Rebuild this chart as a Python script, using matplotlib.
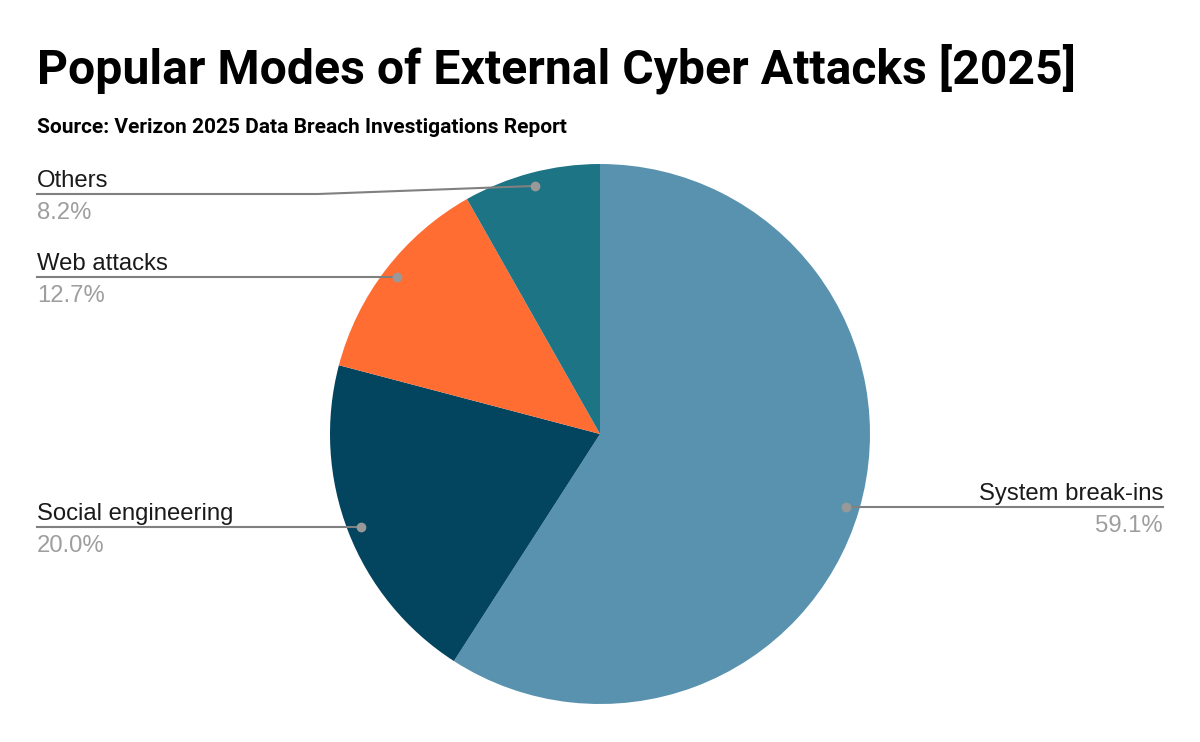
import numpy as np
import matplotlib.pyplot as plt

# data
labels = ["System break-ins", "Social engineering", "Web attacks", "Others"]
values = [59.1, 20.0, 12.7, 8.2]
colors = ["#5992AE", "#03445F", "#FF6D33", "#1D7485"]

W, H = 1200, 742
fig = plt.figure(figsize=(W / 100, H / 100), dpi=100)
ax = fig.add_axes([0, 0, 1, 1])

cx, cy, r = 600, H - 434, 270
ax.pie(values, colors=colors, startangle=90, counterclock=False,
       center=(cx, cy), radius=r, frame=True,
       wedgeprops=dict(linewidth=0))
ax.set_xlim(0, W)
ax.set_ylim(0, H)
ax.set_aspect("equal")
ax.axis("off")

# leader lines / labels
label_rows = [507, 527, 277, 194]  # y pixel of the leader line
line_col = "#808080"
tot = sum(values)
cum = 0
for i, (lab, v) in enumerate(zip(labels, values)):
    mid = (cum + v / 2) / tot * 360
    cum += v
    ang = np.radians(90 - mid)
    dx, dy = cx + 0.95 * r * np.cos(ang), cy + 0.95 * r * np.sin(ang)
    ly = H - label_rows[i]
    right = dx > cx
    if right:
        xe = 1163
        ax.plot([dx, xe], [ly, ly], color=line_col, lw=1.5, zorder=3)
        ha = "right"
    else:
        xe = 37
        if abs(dy - ly) > 3:
            kx = 318
            ax.plot([dx, kx, xe], [dy, ly, ly], color=line_col, lw=1.5, zorder=3)
        else:
            ax.plot([dx, xe], [ly, ly], color=line_col, lw=1.5, zorder=3)
        ha = "left"
    ax.plot([dx], [dy if not right else ly], "o", color="#999999", ms=6, zorder=4)
    ax.text(xe, ly + 7, lab, ha=ha, va="baseline", fontsize=17.2,
            family="Liberation Sans", color="#1a1a1a")
    ax.text(xe, ly - 8, f"{v:.1f}%", ha=ha, va="top", fontsize=17.2,
            family="Liberation Sans", color="#9e9e9e")

fig.text(37 / W, 1 - 84 / H, "Popular Modes of External Cyber Attacks [2025]",
         ha="left", va="baseline", fontsize=34.7, fontweight="bold",
         family="Roboto", color="black")
fig.text(37 / W, 1 - 133 / H, "Source: Verizon 2025 Data Breach Investigations Report",
         ha="left", va="baseline", fontsize=15, fontweight="bold",
         family="Roboto", color="black")

fig.savefig("out.png", dpi=100)
